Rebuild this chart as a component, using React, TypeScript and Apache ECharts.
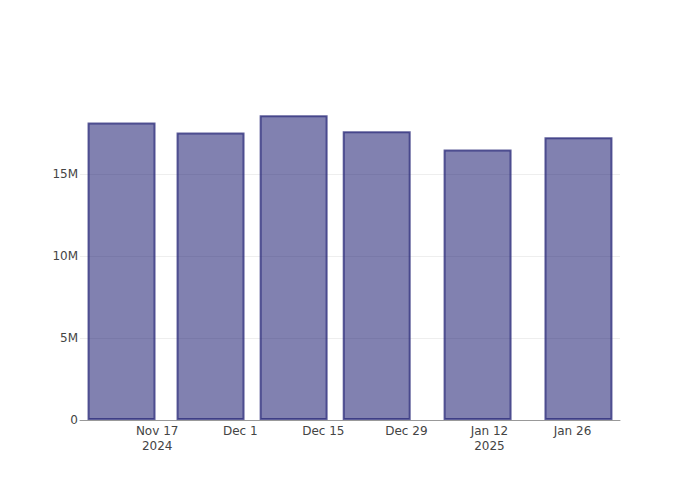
import React, { useEffect, useRef } from "react";
import * as echarts from "echarts";

const barDates = ["2024-11-11", "2024-11-26", "2024-12-10", "2024-12-24", "2025-01-10", "2025-01-27"];
const barValues = [18.13e6, 17.52e6, 18.57e6, 17.6e6, 16.48e6, 17.23e6];
const tickDates = ["2024-11-17", "2024-12-01", "2024-12-15", "2024-12-29", "2025-01-12", "2025-01-26"];
const tickLabels = ["Nov 17\n2024", "Dec 1", "Dec 15", "Dec 29", "Jan 12\n2025", "Jan 26"];
const yTicks = [0, 5e6, 10e6, 15e6];
const yTickLabels = ["0", "5M", "10M", "15M"];
const xRange = ["2024-11-04", "2025-02-03"];
const yMax = 19.5e6;

const ts = (d: string) => Date.parse(d + "T00:00:00Z");

export default function App() {
  const ref = useRef<HTMLDivElement>(null);
  useEffect(() => {
    if (!ref.current) return;
    const chart = echarts.init(ref.current, undefined, { renderer: "svg" });
    const tickTs = tickDates.map(ts);
    chart.setOption({
      animation: false,
      textStyle: { fontFamily: "DejaVu Sans" },
      grid: { left: 80, right: 80, top: 100, bottom: 80 },
      xAxis: {
        type: "value",
        min: ts(xRange[0]),
        max: ts(xRange[1]),
        axisLine: { show: true, onZero: false, lineStyle: { color: "#999", width: 1 } },
        axisTick: { show: false },
        splitLine: { show: false },
        axisLabel: {
          customValues: tickTs,
          color: "#444",
          fontSize: 12,
          lineHeight: 15,
          margin: 3,
          fontFamily: "DejaVu Sans",
          formatter: (v: number) => {
            const i = tickTs.indexOf(v);
            return i >= 0 ? tickLabels[i] : "";
          },
        },
      },
      yAxis: {
        type: "value",
        min: 0,
        max: yMax,
        interval: 5e6,
        axisLine: { show: false },
        axisTick: { show: false },
        splitLine: { show: true, showMaxLine: false, lineStyle: { color: "#eee", width: 1 } },
        axisLabel: {
          customValues: yTicks,
          color: "#444",
          fontSize: 12,
          margin: 2,
          fontFamily: "DejaVu Sans",
          formatter: (v: number) => {
            const i = yTicks.indexOf(v);
            return i >= 0 ? yTickLabels[i] : "";
          },
        },
      },
      series: [
        {
          type: "bar",
          data: barDates.map((d, i) => [ts(d), barValues[i]]),
          barWidth: 68,
          itemStyle: {
            color: "rgba(25,25,112,0.55)",
            borderColor: "rgba(40,40,120,0.75)",
            borderWidth: 2,
          },
        },
      ],
    });
    return () => chart.dispose();
  }, []);
  return <div ref={ref} style={{ width: 700, height: 500, position: "absolute", left: 0, top: 0 }} />;
}
